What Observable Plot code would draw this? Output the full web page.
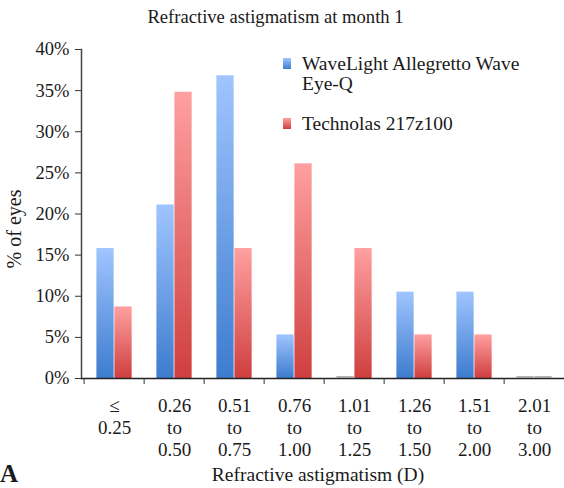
<!DOCTYPE html>
<html>
<head>
<meta charset="utf-8">
<script src="https://cdn.jsdelivr.net/npm/d3@7"></script>
<script src="https://cdn.jsdelivr.net/npm/@observablehq/plot@0.6"></script>
<style>
  html, body { margin: 0; padding: 0; background: #fff; overflow: hidden; }
  #wrap { position: relative; width: 564px; height: 488px; }
  #wrap svg, #wrap svg text { font-family: "Liberation Serif", "Times New Roman", serif !important; }
</style>
</head>
<body>
<div id="wrap"></div>
<script>
const categories = ["≤\n0.25", "0.26\nto\n0.50", "0.51\nto\n0.75", "0.76\nto\n1.00", "1.01\nto\n1.25", "1.26\nto\n1.50", "1.51\nto\n2.00", "2.01\nto\n3.00"];
const wavelight = [15.8, 21.1, 36.8, 5.3, 0, 10.5, 10.5, 0];
const technolas = [8.7, 34.8, 15.8, 26.1, 15.8, 5.3, 5.3, 0];
const seriesNames = ["WaveLight Allegretto Wave", "Eye-Q", "Technolas 217z100"];
const yTicks = [0, 5, 10, 15, 20, 25, 30, 35, 40];
const title = "Refractive astigmatism at month 1";
const xTitle = "Refractive astigmatism (D)";
const yTitle = "% of eyes";
const panel = "A";

const blueData = categories.map((c, i) => ({cat: c, v: wavelight[i]}));
const redData = categories.map((c, i) => ({cat: c, v: technolas[i]}));
const zeroBlue = blueData.filter(d => d.v === 0);
const zeroRed = redData.filter(d => d.v === 0);

const ink = "#1a1a1a";
const plot = Plot.plot({
  width: 564,
  height: 488,
  marginTop: 49,
  marginBottom: 110,
  marginLeft: 81,
  marginRight: 0,
  style: {fontSize: "18px", color: ink, background: "transparent", overflow: "visible"},
  x: {domain: categories, range: [81, 567], padding: 0},
  y: {domain: [0, 40], range: [378, 49]},
  marks: [
    Plot.barY(blueData, {x: "cat", y: "v", fill: "url(#gBlue)", insetLeft: 12.4, insetRight: 30.35}),
    Plot.barY(redData, {x: "cat", y: "v", fill: "url(#gRed)", insetLeft: 30.4, insetRight: 12.35}),
    Plot.axisY({ticks: yTicks, tickFormat: d => d + "%", tickSize: 6, tickPadding: 6, label: null, stroke: "#333", fontSize: 18.5}),
    Plot.frame({anchor: "left", stroke: "#444", strokeWidth: 1.5}),
    Plot.ruleY([0], {stroke: "#222", strokeWidth: 1.3}),
    Plot.tickY(zeroBlue, {x: "cat", y: "v", stroke: "#999", strokeWidth: 1.5, dy: -1.5, insetLeft: 12.4, insetRight: 30.35}),
    Plot.tickY(zeroRed, {x: "cat", y: "v", stroke: "#999", strokeWidth: 1.5, dy: -1.5, insetLeft: 30.4, insetRight: 12.35}),
    Plot.axisX({tickSize: 6, dx: -30.375, tickFormat: () => "", label: null, stroke: "#333"}),
    Plot.axisX({tickSize: 0, tickPadding: 18.5, lineHeight: 1.14, label: null, fontSize: 19})
  ]
});

const svg = d3.select(plot);
svg.selectAll("text").attr("fill", ink);
const defs = svg.insert("defs", ":first-child");
function grad(id, top, bottom) {
  const g = defs.append("linearGradient").attr("id", id).attr("x1", 0).attr("y1", 0).attr("x2", 0).attr("y2", 1);
  g.append("stop").attr("offset", "0%").attr("stop-color", top);
  g.append("stop").attr("offset", "100%").attr("stop-color", bottom);
}
grad("gBlue", "#a0c5ff", "#3d7cce");
grad("gRed", "#ffa0a0", "#cf3f3f");

function addText(str, x, y, opts = {}) {
  const t = svg.append("text").attr("x", x).attr("y", y).attr("fill", ink)
    .attr("font-size", opts.size || 19).attr("text-anchor", opts.anchor || "start").text(str);
  if (opts.weight) t.attr("font-weight", opts.weight);
  if (opts.rotate) t.attr("transform", `rotate(${opts.rotate},${x},${y})`);
  return t;
}
addText(title, 275.5, 23, {size: 18.6, anchor: "middle"});
addText(xTitle, 318, 481, {size: 19.5, anchor: "middle"});
addText(yTitle, 21, 229, {size: 20, anchor: "middle", rotate: -90});
addText(panel, 0, 482, {size: 25, weight: "bold"});

// legend
svg.append("rect").attr("x", 283).attr("y", 58).attr("width", 8).attr("height", 11).attr("fill", "url(#gBlue)");
svg.append("rect").attr("x", 283).attr("y", 118).attr("width", 8).attr("height", 11).attr("fill", "url(#gRed)");
addText(seriesNames[0], 302, 70, {size: 19.5});
addText(seriesNames[1], 302, 90, {size: 19.5});
addText(seriesNames[2], 302, 130, {size: 19.5});

document.getElementById("wrap").appendChild(plot);
</script>
</body>
</html>
